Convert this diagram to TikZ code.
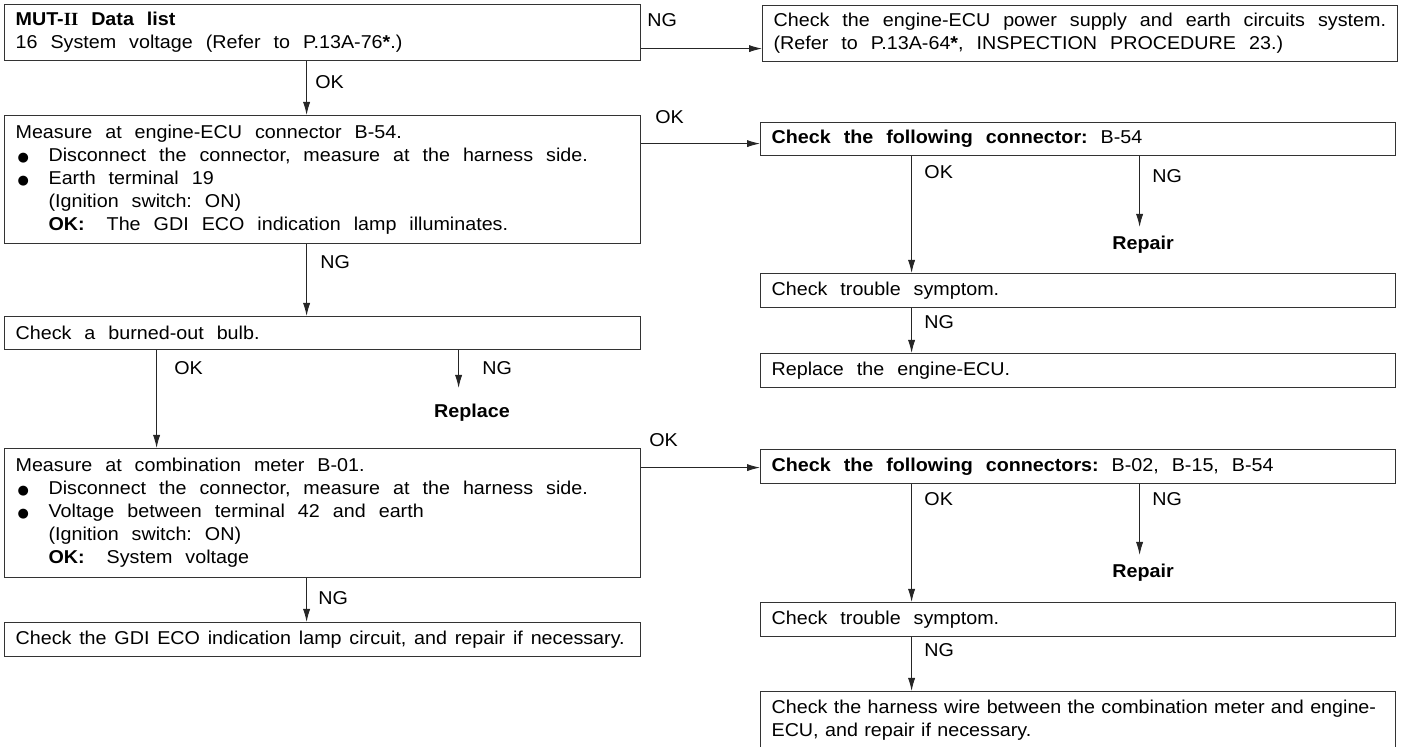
\documentclass[tikz,border=0pt]{standalone}
\usepackage{fontspec}
\setmainfont{Liberation Sans}[FakeStretch=1.06]
\newfontfamily\serif{Liberation Serif}
\newfontfamily\symf{DejaVu Sans}
\usetikzlibrary{arrows.meta}
\frenchspacing
\newcommand\bul{\makebox[16.5pt][l]{\hspace{1pt}{\symf\fontsize{6.5}{6.5}\selectfont ●}}}
\newcommand\ind{\hspace*{16.5pt}}
\newcommand\txt{\fontsize{9.3}{11.5}\selectfont}
\tikzset{
  box/.style={draw=black!80, line width=0.6pt, rectangle, anchor=north west,
    inner xsep=5.5pt, inner ysep=0pt, align=left, font=\txt,
    execute at begin node={\spaceskip=6.5pt plus 1pt minus 1pt\relax}},
  tight/.style={execute at begin node={\spaceskip=3.9pt\relax}},
  tighter/.style={execute at begin node={\spaceskip=3.2pt\relax}},
  lbox/.style={box, minimum width=318pt, text width=307pt},
  rbox/.style={box, minimum width=317.5pt, text width=306.5pt},
  tag/.style={anchor=west, inner sep=0pt, font=\txt},
  fix/.style={anchor=north, inner xsep=0pt, font=\txt\bfseries},
  arr/.style={-{Latex[length=6.5pt,width=3.6pt]}, line width=0.5pt, black!85}
}
\begin{document}
\begin{tikzpicture}[x=0.5pt,y=-0.5pt]
    \useasboundingbox (0,0) rectangle (1408,747);
    \clip (0,0) rectangle (1408,747);
    % left column
    \node[lbox, minimum height=28pt] (mut) at (4,4) {\textbf{MUT-{\serif II} Data list}\\16 System voltage (Refer to P.13A-76\textbf{*}.)};
    \node[lbox, minimum height=64pt] (ecu) at (4,115) {Measure at engine-ECU connector B-54.\\
        \bul Disconnect the connector, measure at the harness side.\\
        \bul Earth terminal 19\\
        \ind (Ignition switch: ON)\\
        \ind\textbf{OK:}\hspace{11pt}The GDI ECO indication lamp illuminates.};
    \node[lbox, minimum height=16.5pt] (bulb) at (4,316) {Check a burned-out bulb.};
    \node[fix, inner ysep=8pt] (rpl) at (472,388) {Replace};
    \node[lbox, minimum height=64.5pt] (meter) at (4,448) {Measure at combination meter B-01.\\
        \bul Disconnect the connector, measure at the harness side.\\
        \bul Voltage between terminal 42 and earth\\
        \ind (Ignition switch: ON)\\
        \ind\textbf{OK:}\hspace{11pt}System voltage};
    \node[lbox, tight, minimum height=17pt] (lamp) at (4,622) {Check the GDI ECO indication lamp circuit, and repair if necessary.};
    % right column
    \node[rbox, minimum height=28pt] (pwr) at (762,5) {Check the engine-ECU power supply and earth circuits system.\\(Refer to P.13A-64\textbf{*}, INSPECTION PROCEDURE 23.)};
    \node[rbox, minimum height=16.5pt] (con1) at (760,122) {\textbf{Check the following connector:} B-54};
    \node[fix, inner ysep=4.5pt] (rep1) at (1143,227) {Repair};
    \node[rbox, minimum height=17pt] (sym1) at (760,273) {Check trouble symptom.};
    \node[rbox, minimum height=17pt] (repl) at (760,353) {Replace the engine-ECU.};
    \node[rbox, minimum height=17pt] (con2) at (760,449) {\textbf{Check the following connectors:} B-02, B-15, B-54};
    \node[fix, inner ysep=4.5pt] (rep2) at (1143,555) {Repair};
    \node[rbox, minimum height=17pt] (sym2) at (760,602) {Check trouble symptom.};
    \node[rbox, tighter, inner ysep=4pt] (wire) at (760,691) {Check the harness wire between the combination meter and engine-\\ECU, and repair if necessary.};
    % connectors
    \draw[arr] ([yshift=-8pt]mut.east) -- ([yshift=-8pt]mut.east -| pwr.west);
    \draw[arr] ([xshift=-8pt]mut.south) -- ([xshift=-8pt]mut.south |- ecu.north);
    \draw[arr] ([yshift=18pt]ecu.east) -- ([yshift=18pt]ecu.east -| con1.west);
    \draw[arr] ([xshift=-8pt]ecu.south) -- ([xshift=-8pt]ecu.south |- bulb.north);
    \draw[arr] ([xshift=-83pt]bulb.south) -- ([xshift=-83pt]bulb.south |- meter.north);
    \draw[arr] ([xshift=68pt]bulb.south) -- ([xshift=68pt]bulb.south |- rpl.north);
    \draw[arr] ([yshift=22.75pt]meter.east) -- ([yshift=22.75pt]meter.east -| con2.west);
    \draw[arr] ([xshift=-8pt]meter.south) -- ([xshift=-8pt]meter.south |- lamp.north);
    \draw[arr] ([xshift=-83.25pt]con1.south) -- ([xshift=-83.25pt]con1.south |- sym1.north);
    \draw[arr] ([xshift=30.75pt]con1.south) -- ([xshift=30.75pt]con1.south |- rep1.north);
    \draw[arr] ([xshift=-83.25pt]sym1.south) -- ([xshift=-83.25pt]sym1.south |- repl.north);
    \draw[arr] ([xshift=-83.25pt]con2.south) -- ([xshift=-83.25pt]con2.south |- sym2.north);
    \draw[arr] ([xshift=30.75pt]con2.south) -- ([xshift=30.75pt]con2.south |- rep2.north);
    \draw[arr] ([xshift=-83.25pt]sym2.south) -- ([xshift=-83.25pt]sym2.south |- wire.north);
    % OK / NG tags
    \foreach \n/\t/\x/\y in {ng1/NG/647/20, ok1/OK/315/82, ok2/OK/655/117, ng2/NG/320/262,
        ok3/OK/174/368, ng3/NG/482/368, ok4/OK/649/440, ng4/NG/318/598,
        ok5/OK/924/172, ng5/NG/1152/176, ng6/NG/924/322,
        ok6/OK/924/499, ng7/NG/1152/499, ng8/NG/924/650}
    {%
        \node[tag] (\n) at (\x,\y) {\t};
    }%
\end{tikzpicture}
\end{document}
